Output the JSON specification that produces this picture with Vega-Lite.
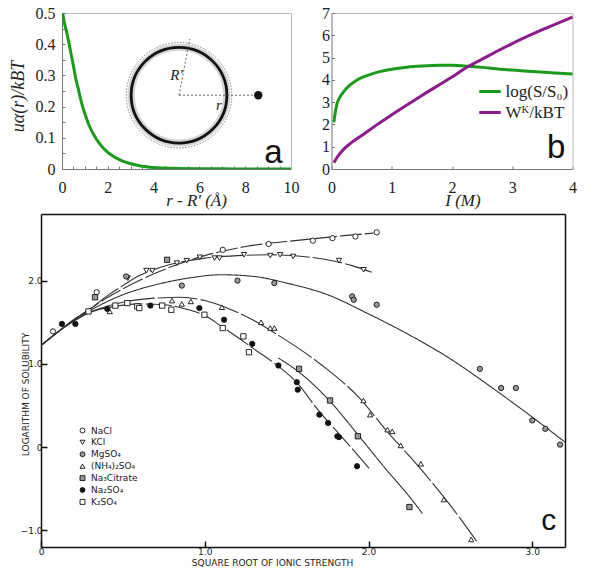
{
 "$schema": "https://vega.github.io/schema/vega-lite/v6.json",
 "background": "white",
 "padding": {"left": 9, "top": 5, "right": 0, "bottom": 0},
 "spacing": 6,
 "resolve": {"legend": {"color": "independent", "shape": "independent", "fill": "independent", "stroke": "independent"}},
 "config": {"axis": {"grid": false, "labelOverlap": false}, "view": {"stroke": null}},
 "vconcat": [
  {
   "spacing": -33,
   "resolve": {"legend": {"color": "independent"}},
   "hconcat": [
    {"width": 1, "height": 1, "data": {"values": []}, "mark": "point"},
    {
     "spacing": 22.5,
     "resolve": {"legend": {"color": "independent"}},
     "hconcat": [
      {
       "width": 229, "height": 156,
       "resolve": {"axis": {"x": "independent", "y": "independent"}},
       "layer": [
        {
         "data": {"values": [
          {"x": 0.03, "y": 0.5}, {"x": 0.1, "y": 0.47}, {"x": 0.2, "y": 0.44}, {"x": 0.3, "y": 0.405},
          {"x": 0.4, "y": 0.367}, {"x": 0.5, "y": 0.33}, {"x": 0.6, "y": 0.29}, {"x": 0.7, "y": 0.26},
          {"x": 0.8, "y": 0.228}, {"x": 0.9, "y": 0.2}, {"x": 1.0, "y": 0.177}, {"x": 1.2, "y": 0.137},
          {"x": 1.4, "y": 0.108}, {"x": 1.6, "y": 0.085}, {"x": 1.8, "y": 0.067}, {"x": 2.0, "y": 0.053},
          {"x": 2.3, "y": 0.038}, {"x": 2.6, "y": 0.027}, {"x": 3.0, "y": 0.017}, {"x": 3.5, "y": 0.009},
          {"x": 4.0, "y": 0.005}, {"x": 4.5, "y": 0.003}, {"x": 5.0, "y": 0.002}, {"x": 6.0, "y": 0.001},
          {"x": 7.0, "y": 0.0005}, {"x": 8.0, "y": 0.0003}, {"x": 9.0, "y": 0.0002}, {"x": 10.0, "y": 0.0001}
         ]},
         "mark": {"type": "line", "color": "#1c9a1c", "strokeWidth": 3, "interpolate": "monotone", "clip": true},
         "encoding": {
          "x": {"field": "x", "type": "quantitative", "scale": {"domain": [0, 10], "nice": false},
           "axis": {"title": "r - R' (Å)", "values": [0,0.5,1,1.5,2,2.5,3,3.5,4,4.5,5,5.5,6,6.5,7,7.5,8,8.5,9,9.5,10],
            "labelExpr": "datum.value % 2 == 0 ? format(datum.value, 'd') : ''",
            "tickSize": -3, "tickColor": "#777777", "domainColor": "#777777",
            "labelFont": "Liberation Serif", "labelFontSize": 16, "labelColor": "#222222", "labelPadding": 13,
            "labelOverlap": false, "labelFlush": false,
            "titleFont": "Liberation Serif", "titleFontSize": 17, "titleFontStyle": "italic", "titleFontWeight": "normal",
            "titleColor": "#222222", "titleX": 134, "titleY": 31, "titleBaseline": "middle", "titleAlign": "center"}},
          "y": {"field": "y", "type": "quantitative", "scale": {"domain": [0, 0.5], "nice": false},
           "axis": {"title": "uα(r)/kBT", "values": [0,0.05,0.1,0.15,0.2,0.25,0.3,0.35,0.4,0.45,0.5],
            "labelExpr": "round(datum.value*100) % 10 == 0 ? format(datum.value, '.1~f') : ''",
            "tickSize": -3, "tickColor": "#777777", "domainColor": "#777777",
            "labelFont": "Liberation Serif", "labelFontSize": 16, "labelColor": "#222222", "labelPadding": 10,
            "labelOverlap": false, "labelFlush": false,
            "titleFont": "Liberation Serif", "titleFontSize": 18, "titleFontStyle": "italic", "titleFontWeight": "normal",
            "titleColor": "#222222", "titleX": -44, "titleY": 83, "titleBaseline": "middle", "titleAlign": "center", "titleAngle": -90}}
         }
        },
        {
         "data": {"values": [{"x": 5.11, "y": 0.2365}]},
         "mark": {"type": "point", "shape": "circle", "size": 9161, "filled": false, "stroke": "#d4d4d4", "strokeWidth": 7, "opacity": 1},
         "encoding": {"x": {"field": "x", "type": "quantitative", "axis": null}, "y": {"field": "y", "type": "quantitative", "axis": null}}
        },
        {
         "data": {"values": [{"x": 5.11, "y": 0.2365}]},
         "mark": {"type": "point", "shape": "circle", "size": 11122, "filled": false, "stroke": "#666666", "strokeWidth": 0.8, "strokeDash": [1.5, 1.5], "opacity": 1},
         "encoding": {"x": {"field": "x", "type": "quantitative", "axis": null}, "y": {"field": "y", "type": "quantitative", "axis": null}}
        },
        {
         "data": {"values": [{"x": 5.11, "y": 0.2365}]},
         "mark": {"type": "point", "shape": "circle", "size": 9161, "filled": false, "stroke": "#111111", "strokeWidth": 2.8, "opacity": 1},
         "encoding": {"x": {"field": "x", "type": "quantitative", "axis": null}, "y": {"field": "y", "type": "quantitative", "axis": null}}
        },
        {
         "data": {"values": [
          {"x": 5.11, "y": 0.2365, "x2": 5.58, "y2": 0.4167},
          {"x": 5.11, "y": 0.2365, "x2": 8.57, "y2": 0.2365}
         ]},
         "mark": {"type": "rule", "stroke": "#555555", "strokeWidth": 0.9, "strokeDash": [2, 2]},
         "encoding": {"x": {"field": "x", "type": "quantitative", "axis": null}, "y": {"field": "y", "type": "quantitative", "axis": null},
          "x2": {"field": "x2"}, "y2": {"field": "y2"}}
        },
        {
         "data": {"values": [{"x": 8.57, "y": 0.2365}]},
         "mark": {"type": "point", "shape": "circle", "size": 70, "filled": true, "color": "#111111", "opacity": 1},
         "encoding": {"x": {"field": "x", "type": "quantitative", "axis": null}, "y": {"field": "y", "type": "quantitative", "axis": null}}
        },
        {
         "data": {"values": [{"x": 5.0, "y": 0.3, "t": "R'"}, {"x": 6.85, "y": 0.206, "t": "r"}]},
         "mark": {"type": "text", "font": "Liberation Serif", "fontSize": 15, "fontStyle": "italic", "color": "#222222", "align": "center", "baseline": "middle"},
         "encoding": {"x": {"field": "x", "type": "quantitative", "axis": null}, "y": {"field": "y", "type": "quantitative", "axis": null}, "text": {"field": "t"}}
        },
        {
         "data": {"values": [{"x": 9.23, "y": 0.05, "t": "a"}]},
         "mark": {"type": "text", "font": "Liberation Sans", "fontSize": 33, "color": "#111111", "align": "center", "baseline": "middle"},
         "encoding": {
          "x": {"field": "x", "type": "quantitative", "axis": {"orient": "top", "labels": false, "ticks": false, "title": null, "domainColor": "#bbbbbb"}},
          "y": {"field": "y", "type": "quantitative", "axis": {"orient": "right", "labels": false, "ticks": false, "title": null, "domainColor": "#bbbbbb"}},
          "text": {"field": "t"}}
        }
       ]
      },
      {
       "width": 241, "height": 156,
       "resolve": {"axis": {"x": "independent", "y": "independent"}},
       "layer": [
        {
         "data": {"values": [
          {"s": "log(S/S₀)", "x": 0.04, "y": 2.1}, {"s": "log(S/S₀)", "x": 0.06, "y": 2.5}, {"s": "log(S/S₀)", "x": 0.08, "y": 2.8},
          {"s": "log(S/S₀)", "x": 0.1, "y": 3.0}, {"s": "log(S/S₀)", "x": 0.15, "y": 3.27}, {"s": "log(S/S₀)", "x": 0.2, "y": 3.46},
          {"s": "log(S/S₀)", "x": 0.3, "y": 3.75}, {"s": "log(S/S₀)", "x": 0.4, "y": 3.95}, {"s": "log(S/S₀)", "x": 0.5, "y": 4.1},
          {"s": "log(S/S₀)", "x": 0.6, "y": 4.2}, {"s": "log(S/S₀)", "x": 0.8, "y": 4.37}, {"s": "log(S/S₀)", "x": 1.0, "y": 4.48},
          {"s": "log(S/S₀)", "x": 1.25, "y": 4.57}, {"s": "log(S/S₀)", "x": 1.5, "y": 4.62}, {"s": "log(S/S₀)", "x": 1.8, "y": 4.65},
          {"s": "log(S/S₀)", "x": 2.0, "y": 4.65}, {"s": "log(S/S₀)", "x": 2.27, "y": 4.61}, {"s": "log(S/S₀)", "x": 2.5, "y": 4.56},
          {"s": "log(S/S₀)", "x": 2.8, "y": 4.48}, {"s": "log(S/S₀)", "x": 3.1, "y": 4.42}, {"s": "log(S/S₀)", "x": 3.4, "y": 4.36},
          {"s": "log(S/S₀)", "x": 3.7, "y": 4.31}, {"s": "log(S/S₀)", "x": 4.0, "y": 4.26},
          {"s": "Wᴷ/kBT", "x": 0.04, "y": 0.28}, {"s": "Wᴷ/kBT", "x": 0.1, "y": 0.55}, {"s": "Wᴷ/kBT", "x": 0.2, "y": 0.88},
          {"s": "Wᴷ/kBT", "x": 0.3, "y": 1.12}, {"s": "Wᴷ/kBT", "x": 0.5, "y": 1.5}, {"s": "Wᴷ/kBT", "x": 0.75, "y": 1.98},
          {"s": "Wᴷ/kBT", "x": 1.0, "y": 2.43}, {"s": "Wᴷ/kBT", "x": 1.5, "y": 3.3}, {"s": "Wᴷ/kBT", "x": 2.0, "y": 4.13},
          {"s": "Wᴷ/kBT", "x": 2.27, "y": 4.6}, {"s": "Wᴷ/kBT", "x": 2.5, "y": 4.93}, {"s": "Wᴷ/kBT", "x": 3.0, "y": 5.63},
          {"s": "Wᴷ/kBT", "x": 3.5, "y": 6.25}, {"s": "Wᴷ/kBT", "x": 4.0, "y": 6.82}
         ]},
         "mark": {"type": "line", "strokeWidth": 3, "interpolate": "monotone"},
         "encoding": {
          "x": {"field": "x", "type": "quantitative", "scale": {"domain": [0, 4], "nice": false},
           "axis": {"title": "I (M)", "values": [0, 1, 2, 3, 4], "format": "d",
            "tickSize": -3, "tickColor": "#777777", "domainColor": "#777777",
            "labelFont": "Liberation Serif", "labelFontSize": 16, "labelColor": "#222222", "labelPadding": 13,
            "labelOverlap": false, "labelFlush": false,
            "titleFont": "Liberation Serif", "titleFontSize": 17, "titleFontStyle": "italic", "titleFontWeight": "normal",
            "titleColor": "#222222", "titleX": 131, "titleY": 31, "titleBaseline": "middle", "titleAlign": "center"}},
          "y": {"field": "y", "type": "quantitative", "scale": {"domain": [0, 7], "nice": false},
           "axis": {"title": null, "values": [0, 1, 2, 3, 4, 5, 6, 7], "format": "d",
            "tickSize": -3, "tickColor": "#777777", "domainColor": "#777777",
            "labelFont": "Liberation Serif", "labelFontSize": 16, "labelColor": "#222222", "labelPadding": 5,
            "labelOverlap": false, "labelFlush": false}},
          "color": {"field": "s", "type": "nominal",
           "scale": {"domain": ["log(S/S₀)", "Wᴷ/kBT"], "range": ["#1c9a1c", "#8c1c8c"]},
           "legend": {"title": null, "orient": "none", "legendX": 146, "legendY": 66, "padding": 0,
            "symbolType": "stroke", "symbolSize": 462, "symbolStrokeWidth": 3,
            "labelFont": "Liberation Serif", "labelFontSize": 17, "labelColor": "#222222", "labelOffset": 3, "rowPadding": -0.8}}
         }
        },
        {
         "data": {"values": [{"x": 3.73, "y": 0.93, "t": "b"}]},
         "mark": {"type": "text", "font": "Liberation Sans", "fontSize": 33, "color": "#111111", "align": "center", "baseline": "middle"},
         "encoding": {
          "x": {"field": "x", "type": "quantitative", "axis": {"orient": "top", "labels": false, "ticks": false, "title": null, "domainColor": "#bbbbbb"}},
          "y": {"field": "y", "type": "quantitative", "axis": {"orient": "right", "labels": false, "ticks": false, "title": null, "domainColor": "#bbbbbb"}},
          "text": {"field": "t"}}
        }
       ]
      }
     ]
    }
   ]
  },
  {
   "width": 524, "height": 333,
   "resolve": {"axis": {"x": "independent", "y": "independent"}},
   "layer": [
    {
     "data": {"values": [
      {"curve": "NaCl", "x": 0, "y": 1.22}, {"curve": "NaCl", "x": 0.1, "y": 1.38}, {"curve": "NaCl", "x": 0.2, "y": 1.53},
      {"curve": "NaCl", "x": 0.3, "y": 1.66}, {"curve": "NaCl", "x": 0.4, "y": 1.79}, {"curve": "NaCl", "x": 0.5, "y": 1.9},
      {"curve": "NaCl", "x": 0.6, "y": 2.0}, {"curve": "NaCl", "x": 0.7, "y": 2.09}, {"curve": "NaCl", "x": 0.8, "y": 2.17},
      {"curve": "NaCl", "x": 0.9, "y": 2.24}, {"curve": "NaCl", "x": 1.0, "y": 2.3}, {"curve": "NaCl", "x": 1.1, "y": 2.35},
      {"curve": "NaCl", "x": 1.25, "y": 2.41}, {"curve": "NaCl", "x": 1.4, "y": 2.45}, {"curve": "NaCl", "x": 1.55, "y": 2.48},
      {"curve": "NaCl", "x": 1.7, "y": 2.51}, {"curve": "NaCl", "x": 1.85, "y": 2.54}, {"curve": "NaCl", "x": 2.03, "y": 2.57},
      {"curve": "KCl", "x": 0, "y": 1.22}, {"curve": "KCl", "x": 0.1, "y": 1.38}, {"curve": "KCl", "x": 0.2, "y": 1.53},
      {"curve": "KCl", "x": 0.3, "y": 1.66}, {"curve": "KCl", "x": 0.4, "y": 1.81}, {"curve": "KCl", "x": 0.5, "y": 1.94},
      {"curve": "KCl", "x": 0.6, "y": 2.06}, {"curve": "KCl", "x": 0.7, "y": 2.14}, {"curve": "KCl", "x": 0.8, "y": 2.2},
      {"curve": "KCl", "x": 0.9, "y": 2.24}, {"curve": "KCl", "x": 1.0, "y": 2.27}, {"curve": "KCl", "x": 1.2, "y": 2.3},
      {"curve": "KCl", "x": 1.4, "y": 2.31}, {"curve": "KCl", "x": 1.6, "y": 2.29}, {"curve": "KCl", "x": 1.8, "y": 2.23},
      {"curve": "KCl", "x": 1.9, "y": 2.18}, {"curve": "KCl", "x": 2.02, "y": 2.1},
      {"curve": "MgSO4", "x": 0, "y": 1.22}, {"curve": "MgSO4", "x": 0.15, "y": 1.45}, {"curve": "MgSO4", "x": 0.3, "y": 1.64},
      {"curve": "MgSO4", "x": 0.5, "y": 1.83}, {"curve": "MgSO4", "x": 0.7, "y": 1.95}, {"curve": "MgSO4", "x": 0.9, "y": 2.03},
      {"curve": "MgSO4", "x": 1.1, "y": 2.07}, {"curve": "MgSO4", "x": 1.3, "y": 2.05}, {"curve": "MgSO4", "x": 1.5, "y": 1.97},
      {"curve": "MgSO4", "x": 1.75, "y": 1.83}, {"curve": "MgSO4", "x": 2.0, "y": 1.6}, {"curve": "MgSO4", "x": 2.2, "y": 1.4},
      {"curve": "MgSO4", "x": 2.5, "y": 1.06}, {"curve": "MgSO4", "x": 2.75, "y": 0.72}, {"curve": "MgSO4", "x": 3.0, "y": 0.36},
      {"curve": "MgSO4", "x": 3.2, "y": 0.06},
      {"curve": "NH4", "x": 0, "y": 1.22}, {"curve": "NH4", "x": 0.15, "y": 1.45}, {"curve": "NH4", "x": 0.3, "y": 1.62},
      {"curve": "NH4", "x": 0.5, "y": 1.74}, {"curve": "NH4", "x": 0.7, "y": 1.79}, {"curve": "NH4", "x": 0.85, "y": 1.8},
      {"curve": "NH4", "x": 1.0, "y": 1.76}, {"curve": "NH4", "x": 1.15, "y": 1.66}, {"curve": "NH4", "x": 1.3, "y": 1.52},
      {"curve": "NH4", "x": 1.46, "y": 1.33}, {"curve": "NH4", "x": 1.6, "y": 1.15}, {"curve": "NH4", "x": 1.75, "y": 0.93},
      {"curve": "NH4", "x": 1.95, "y": 0.58}, {"curve": "NH4", "x": 2.1, "y": 0.22}, {"curve": "NH4", "x": 2.3, "y": -0.22},
      {"curve": "NH4", "x": 2.5, "y": -0.7}, {"curve": "NH4", "x": 2.66, "y": -1.13},
      {"curve": "Na2SO4", "x": 0, "y": 1.22}, {"curve": "Na2SO4", "x": 0.15, "y": 1.45}, {"curve": "Na2SO4", "x": 0.3, "y": 1.62},
      {"curve": "Na2SO4", "x": 0.45, "y": 1.69}, {"curve": "Na2SO4", "x": 0.6, "y": 1.72}, {"curve": "Na2SO4", "x": 0.75, "y": 1.71},
      {"curve": "Na2SO4", "x": 0.9, "y": 1.65}, {"curve": "Na2SO4", "x": 1.0, "y": 1.58}, {"curve": "Na2SO4", "x": 1.11, "y": 1.44},
      {"curve": "Na2SO4", "x": 1.2, "y": 1.32}, {"curve": "Na2SO4", "x": 1.3, "y": 1.18}, {"curve": "Na2SO4", "x": 1.43, "y": 1.0},
      {"curve": "Na2SO4", "x": 1.56, "y": 0.78}, {"curve": "Na2SO4", "x": 1.694, "y": 0.44}, {"curve": "Na2SO4", "x": 1.847, "y": 0.1},
      {"curve": "Na2SO4", "x": 2.01, "y": -0.27},
      {"curve": "Citrate", "x": 1.45, "y": 1.07}, {"curve": "Citrate", "x": 1.576, "y": 0.9}, {"curve": "Citrate", "x": 1.765, "y": 0.55},
      {"curve": "Citrate", "x": 1.935, "y": 0.15}, {"curve": "Citrate", "x": 2.1, "y": -0.25}, {"curve": "Citrate", "x": 2.26, "y": -0.62},
      {"curve": "Citrate", "x": 2.33, "y": -0.8}
     ]},
     "mark": {"type": "line", "stroke": "#333333", "strokeWidth": 1.1, "interpolate": "monotone", "clip": true},
     "encoding": {
      "x": {"field": "x", "type": "quantitative", "scale": {"domain": [0, 3.2], "nice": false},
       "axis": {"title": "SQUARE ROOT OF IONIC STRENGTH", "values": [0, 1, 2, 3],
        "labelExpr": "datum.value == 0 ? '0' : format(datum.value, '.1f')",
        "domainColor": "#111111", "domainWidth": 1.5, "tickSize": -6, "tickWidth": 1.5, "tickColor": "#111111",
        "labelFont": "DejaVu Sans", "labelFontSize": 9, "labelColor": "#222222", "labelPadding": 6,
        "labelOverlap": false, "labelFlush": false,
        "titleFont": "DejaVu Sans", "titleFontSize": 9, "titleFontWeight": "normal", "titleColor": "#222222",
        "titleX": 231, "titleY": 15, "titleBaseline": "middle", "titleAlign": "center"}},
      "y": {"field": "y", "type": "quantitative", "scale": {"domain": [-1.2, 2.8], "nice": false},
       "axis": {"title": "LOGARITHM OF SOLUBILITY", "values": [-1, 0, 1, 2],
        "labelExpr": "datum.value == 0 ? '0' : format(datum.value, '.1f')",
        "domainColor": "#111111", "domainWidth": 1.5, "tickSize": -6, "tickWidth": 1.5, "tickColor": "#111111",
        "labelFont": "DejaVu Sans", "labelFontSize": 9, "labelColor": "#222222", "labelPadding": 5,
        "labelOverlap": false, "labelFlush": false,
        "titleFont": "DejaVu Sans", "titleFontSize": 9, "titleFontWeight": "normal", "titleColor": "#222222",
        "titleX": -15.5, "titleY": 180, "titleBaseline": "middle", "titleAlign": "center", "titleAngle": -90}},
      "detail": {"field": "curve", "type": "nominal"},
      "strokeDash": {"field": "curve", "type": "nominal",
       "scale": {"domain": ["NaCl", "KCl", "MgSO4", "NH4", "Na2SO4", "Citrate"],
        "range": [[22, 3], [30, 3], [1, 0], [40, 3], [26, 3], [1, 0]]}, "legend": null}
     }
    },
    {
     "data": {"values": [
      {"salt": "NaCl", "x": 0.073, "y": 1.39}, {"salt": "NaCl", "x": 0.34, "y": 1.86}, {"salt": "NaCl", "x": 1.11, "y": 2.37},
      {"salt": "NaCl", "x": 1.39, "y": 2.44}, {"salt": "NaCl", "x": 1.66, "y": 2.48}, {"salt": "NaCl", "x": 1.78, "y": 2.51},
      {"salt": "NaCl", "x": 1.92, "y": 2.53}, {"salt": "NaCl", "x": 2.05, "y": 2.58},
      {"salt": "KCl", "x": 0.53, "y": 2.03}, {"salt": "KCl", "x": 0.643, "y": 2.12}, {"salt": "KCl", "x": 0.68, "y": 2.12},
      {"salt": "KCl", "x": 0.83, "y": 2.21}, {"salt": "KCl", "x": 0.89, "y": 2.24}, {"salt": "KCl", "x": 0.97, "y": 2.28},
      {"salt": "KCl", "x": 1.06, "y": 2.27}, {"salt": "KCl", "x": 1.09, "y": 2.27}, {"salt": "KCl", "x": 1.24, "y": 2.31},
      {"salt": "KCl", "x": 1.4, "y": 2.3}, {"salt": "KCl", "x": 1.46, "y": 2.31}, {"salt": "KCl", "x": 1.54, "y": 2.29},
      {"salt": "KCl", "x": 1.82, "y": 2.24}, {"salt": "KCl", "x": 1.97, "y": 2.13},
      {"salt": "MgSO₄", "x": 0.52, "y": 2.05}, {"salt": "MgSO₄", "x": 0.86, "y": 1.94}, {"salt": "MgSO₄", "x": 1.2, "y": 2.0},
      {"salt": "MgSO₄", "x": 1.425, "y": 1.97}, {"salt": "MgSO₄", "x": 1.9, "y": 1.81}, {"salt": "MgSO₄", "x": 1.91, "y": 1.77},
      {"salt": "MgSO₄", "x": 2.05, "y": 1.71}, {"salt": "MgSO₄", "x": 2.68, "y": 0.94}, {"salt": "MgSO₄", "x": 2.81, "y": 0.71},
      {"salt": "MgSO₄", "x": 2.9, "y": 0.71}, {"salt": "MgSO₄", "x": 3.0, "y": 0.32}, {"salt": "MgSO₄", "x": 3.08, "y": 0.22},
      {"salt": "MgSO₄", "x": 3.17, "y": 0.03},
      {"salt": "(NH₄)₂SO₄", "x": 0.42, "y": 1.63}, {"salt": "(NH₄)₂SO₄", "x": 0.8, "y": 1.76}, {"salt": "(NH₄)₂SO₄", "x": 0.86, "y": 1.72},
      {"salt": "(NH₄)₂SO₄", "x": 0.915, "y": 1.75}, {"salt": "(NH₄)₂SO₄", "x": 1.105, "y": 1.68}, {"salt": "(NH₄)₂SO₄", "x": 1.344, "y": 1.5},
      {"salt": "(NH₄)₂SO₄", "x": 1.4, "y": 1.43}, {"salt": "(NH₄)₂SO₄", "x": 1.425, "y": 1.43}, {"salt": "(NH₄)₂SO₄", "x": 1.969, "y": 0.56},
      {"salt": "(NH₄)₂SO₄", "x": 2.01, "y": 0.39}, {"salt": "(NH₄)₂SO₄", "x": 2.116, "y": 0.21}, {"salt": "(NH₄)₂SO₄", "x": 2.145, "y": 0.19},
      {"salt": "(NH₄)₂SO₄", "x": 2.197, "y": 0.02}, {"salt": "(NH₄)₂SO₄", "x": 2.32, "y": -0.2}, {"salt": "(NH₄)₂SO₄", "x": 2.46, "y": -0.63},
      {"salt": "(NH₄)₂SO₄", "x": 2.627, "y": -1.11},
      {"salt": "Na₃Citrate", "x": 0.33, "y": 1.8}, {"salt": "Na₃Citrate", "x": 0.77, "y": 2.25}, {"salt": "Na₃Citrate", "x": 1.576, "y": 0.94},
      {"salt": "Na₃Citrate", "x": 1.765, "y": 0.56}, {"salt": "Na₃Citrate", "x": 1.935, "y": 0.13}, {"salt": "Na₃Citrate", "x": 2.25, "y": -0.72},
      {"salt": "Na₂SO₄", "x": 0.128, "y": 1.48}, {"salt": "Na₂SO₄", "x": 0.21, "y": 1.48}, {"salt": "Na₂SO₄", "x": 0.405, "y": 1.66},
      {"salt": "Na₂SO₄", "x": 0.668, "y": 1.7}, {"salt": "Na₂SO₄", "x": 0.967, "y": 1.67}, {"salt": "Na₂SO₄", "x": 1.118, "y": 1.53},
      {"salt": "Na₂SO₄", "x": 1.29, "y": 1.24}, {"salt": "Na₂SO₄", "x": 1.45, "y": 0.98}, {"salt": "Na₂SO₄", "x": 1.562, "y": 0.78},
      {"salt": "Na₂SO₄", "x": 1.568, "y": 0.69}, {"salt": "Na₂SO₄", "x": 1.7, "y": 0.39}, {"salt": "Na₂SO₄", "x": 1.753, "y": 0.29},
      {"salt": "Na₂SO₄", "x": 1.81, "y": 0.13}, {"salt": "Na₂SO₄", "x": 1.82, "y": 0.12}, {"salt": "Na₂SO₄", "x": 1.93, "y": -0.23},
      {"salt": "K₂SO₄", "x": 0.29, "y": 1.63}, {"salt": "K₂SO₄", "x": 0.454, "y": 1.7}, {"salt": "K₂SO₄", "x": 0.527, "y": 1.73},
      {"salt": "K₂SO₄", "x": 0.588, "y": 1.69}, {"salt": "K₂SO₄", "x": 0.6, "y": 1.67}, {"salt": "K₂SO₄", "x": 0.74, "y": 1.7},
      {"salt": "K₂SO₄", "x": 0.796, "y": 1.65}, {"salt": "K₂SO₄", "x": 0.998, "y": 1.59}, {"salt": "K₂SO₄", "x": 1.11, "y": 1.43},
      {"salt": "K₂SO₄", "x": 1.236, "y": 1.33}, {"salt": "K₂SO₄", "x": 1.27, "y": 1.14}
     ]},
     "mark": {"type": "point", "filled": true, "strokeWidth": 0.9, "opacity": 1, "size": 28},
     "encoding": {
      "x": {"field": "x", "type": "quantitative", "axis": null},
      "y": {"field": "y", "type": "quantitative", "axis": null},
      "shape": {"field": "salt", "type": "nominal",
       "scale": {"domain": ["NaCl", "KCl", "MgSO₄", "(NH₄)₂SO₄", "Na₃Citrate", "Na₂SO₄", "K₂SO₄"],
        "range": ["circle", "triangle-down", "circle", "triangle-up", "square", "circle", "square"]},
       "legend": {"title": null, "orient": "none", "legendX": 37, "legendY": 212, "padding": 0,
        "labelFont": "DejaVu Sans", "labelFontSize": 9, "labelColor": "#222222", "labelOffset": 4, "rowPadding": 1.9,
        "symbolSize": 24, "symbolStrokeWidth": 0.9}},
      "fill": {"field": "salt", "type": "nominal",
       "scale": {"domain": ["NaCl", "KCl", "MgSO₄", "(NH₄)₂SO₄", "Na₃Citrate", "Na₂SO₄", "K₂SO₄"],
        "range": ["#ffffff", "#ffffff", "#999999", "#ffffff", "#999999", "#111111", "#ffffff"]},
       "legend": {"title": null, "orient": "none", "legendX": 37, "legendY": 212, "padding": 0,
        "labelFont": "DejaVu Sans", "labelFontSize": 9, "labelColor": "#222222", "labelOffset": 4, "rowPadding": 1.9,
        "symbolSize": 24, "symbolStrokeWidth": 0.9}},
      "stroke": {"field": "salt", "type": "nominal",
       "scale": {"domain": ["NaCl", "KCl", "MgSO₄", "(NH₄)₂SO₄", "Na₃Citrate", "Na₂SO₄", "K₂SO₄"],
        "range": ["#111111", "#111111", "#111111", "#111111", "#111111", "#111111", "#111111"]},
       "legend": {"title": null, "orient": "none", "legendX": 37, "legendY": 212, "padding": 0,
        "labelFont": "DejaVu Sans", "labelFontSize": 9, "labelColor": "#222222", "labelOffset": 4, "rowPadding": 1.9,
        "symbolSize": 24, "symbolStrokeWidth": 0.9}}
     }
    },
    {
     "data": {"values": [{"x": 3.1, "y": -0.89, "t": "c"}]},
     "mark": {"type": "text", "font": "Liberation Sans", "fontSize": 30, "color": "#111111", "align": "center", "baseline": "middle"},
     "encoding": {
      "x": {"field": "x", "type": "quantitative", "axis": {"orient": "top", "labels": false, "ticks": false, "title": null, "domainColor": "#111111", "domainWidth": 1.5}},
      "y": {"field": "y", "type": "quantitative", "axis": {"orient": "right", "labels": false, "ticks": false, "title": null, "domainColor": "#111111", "domainWidth": 1.5}},
      "text": {"field": "t"}}
    }
   ]
  }
 ]
}
